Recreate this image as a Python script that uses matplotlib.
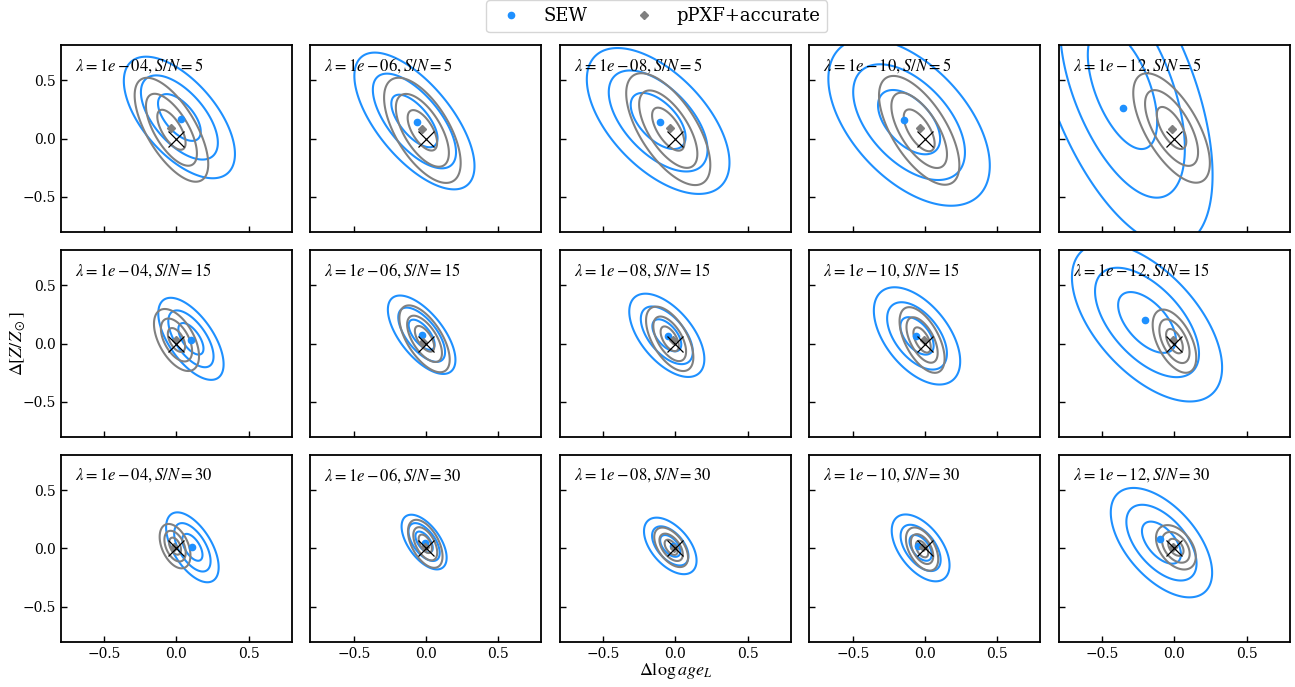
import numpy as np
import matplotlib
matplotlib.use("Agg")
import matplotlib.pyplot as plt
from matplotlib.lines import Line2D

plt.rcParams['font.family'] = ['DejaVu Serif']
plt.rcParams['mathtext.fontset'] = 'stix'

lams = ['1e-04', '1e-06', '1e-08', '1e-10', '1e-12']
snrs = [5, 15, 30]

# SEW density: centre, sigma (x, y) and correlation per panel (rows = S/N, cols = lambda)
sew_mx = [[0.02, -0.08, -0.12, -0.11, -0.36],
          [0.10, -0.03, -0.06, -0.055, -0.19],
          [0.11, -0.013, -0.036, -0.03, -0.09]]
sew_my = [[0.18, 0.15, 0.15, 0.14, 0.43],
          [0.04, 0.075, 0.07, 0.065, 0.18],
          [0.01, 0.055, 0.022, 0.005, 0.05]]
sew_sx = [[0.148, 0.16, 0.19, 0.215, 0.24],
          [0.087, 0.09, 0.10, 0.115, 0.20],
          [0.07, 0.06, 0.07, 0.077, 0.135]]
sew_sy = [[0.20, 0.225, 0.24, 0.275, 0.52],
          [0.135, 0.129, 0.137, 0.16, 0.26],
          [0.115, 0.09, 0.093, 0.11, 0.18]]
sew_rho = [[-0.60, -0.66, -0.57, -0.52, -0.55],
           [-0.62, -0.64, -0.57, -0.52, -0.57],
           [-0.57, -0.57, -0.52, -0.52, -0.55]]

# pPXF+accurate density
pp_mx = [[-0.035, -0.025, -0.05, -0.04, -0.02],
         [0.0, -0.01, -0.04, -0.02, 0.0],
         [-0.01, -0.005, -0.03, -0.02, 0.01]]
pp_my = [[0.075, 0.07, 0.08, 0.07, 0.09],
         [0.03, 0.04, 0.04, 0.03, 0.02],
         [0.02, 0.04, 0.01, -0.005, 0.01]]
pp_sx = [[0.098, 0.102, 0.112, 0.107, 0.102],
         [0.06, 0.067, 0.063, 0.06, 0.058],
         [0.041, 0.046, 0.045, 0.043, 0.053]]
pp_sy = [[0.171, 0.173, 0.184, 0.179, 0.18],
         [0.102, 0.11, 0.106, 0.108, 0.104],
         [0.073, 0.079, 0.065, 0.071, 0.073]]
pp_rho = [[-0.66, -0.62, -0.64, -0.64, -0.64],
          [-0.52, -0.62, -0.57, -0.57, -0.52],
          [-0.42, -0.52, -0.52, -0.47, -0.42]]

# mean points
sew_px = [[0.03, -0.06, -0.11, -0.145, -0.357],
          [0.10, -0.03, -0.054, -0.063, -0.207],
          [0.11, -0.01, -0.02, -0.047, -0.10]]
sew_py = [[0.17, 0.14, 0.14, 0.16, 0.262],
          [0.03, 0.074, 0.06, 0.068, 0.197],
          [0.01, 0.046, 0.02, 0.023, 0.08]]
pp_px = [[-0.04, -0.03, -0.04, -0.035, -0.02],
         [0.0, -0.02, -0.02, -0.01, -0.01],
         [-0.015, -0.007, -0.007, -0.012, -0.01]]
pp_py = [[0.09, 0.085, 0.094, 0.094, 0.085],
         [0.03, 0.017, 0.026, 0.026, 0.03],
         [0.01, 0.009, 0.008, 0.009, 0.009]]

d_levels = [1.0, 1.8, 2.6]

blue = '#1E90FF'
grey = 'grey'

g = np.linspace(-0.8, 0.8, 321)
X, Y = np.meshgrid(g, g)


def maha(mx, my, sx, sy, rho):
    dx = (X - mx) / sx
    dy = (Y - my) / sy
    return (dx**2 - 2 * rho * dx * dy + dy**2) / (1 - rho**2)


fig, axes = plt.subplots(3, 5, figsize=(12.95, 6.87), dpi=100, sharex=True, sharey=True)
fig.subplots_adjust(left=0.0471, right=0.9961, top=0.9345, bottom=0.0655,
                    wspace=0.08, hspace=0.096)

lev = [d**2 for d in d_levels]
for i in range(3):
    for j in range(5):
        ax = axes[i, j]
        ax.contour(X, Y, maha(sew_mx[i][j], sew_my[i][j], sew_sx[i][j], sew_sy[i][j], sew_rho[i][j]),
                   levels=lev, colors=blue, linewidths=1.5, zorder=2)
        ax.contour(X, Y, maha(pp_mx[i][j], pp_my[i][j], pp_sx[i][j], pp_sy[i][j], pp_rho[i][j]),
                   levels=lev, colors=grey, linewidths=1.5, zorder=3)
        ax.plot(sew_px[i][j], sew_py[i][j], 'o', color=blue, ms=4.5, zorder=5)
        ax.plot(pp_px[i][j], pp_py[i][j], 'D', color=grey, ms=4, zorder=5)
        ax.plot(0, 0, 'x', color='k', ms=11, mew=0.9, zorder=6)
        ax.text(0.06, 0.94, r'$\lambda=%s, S/N=%d$' % (lams[j], snrs[i]),
                transform=ax.transAxes, ha='left', va='top', fontsize=12)
        ax.set_xlim(-0.8, 0.8)
        ax.set_ylim(-0.8, 0.8)
        ax.set_xticks([-0.5, 0.0, 0.5])
        ax.set_yticks([-0.5, 0.0, 0.5])
        ax.tick_params(direction='in', length=4, width=1, labelsize=10)
        for s in ax.spines.values():
            s.set_linewidth(1.3)

axes[1, 0].set_ylabel(r'$\Delta[Z/Z_\odot]$', fontsize=13, labelpad=-3)
axes[2, 2].set_xlabel(r'$\Delta\log age_L$', fontsize=13, labelpad=0)

handles = [Line2D([], [], ls='', marker='o', color=blue, ms=4.5),
           Line2D([], [], ls='', marker='D', color=grey, ms=4)]
fig.legend(handles, ['SEW', 'pPXF+accurate'], loc='upper center', bbox_to_anchor=(0.507, 1.0),
           ncol=2, fontsize=13, columnspacing=2.1, handletextpad=0.8, borderaxespad=0.0)

fig.savefig('out.png', dpi=100)
